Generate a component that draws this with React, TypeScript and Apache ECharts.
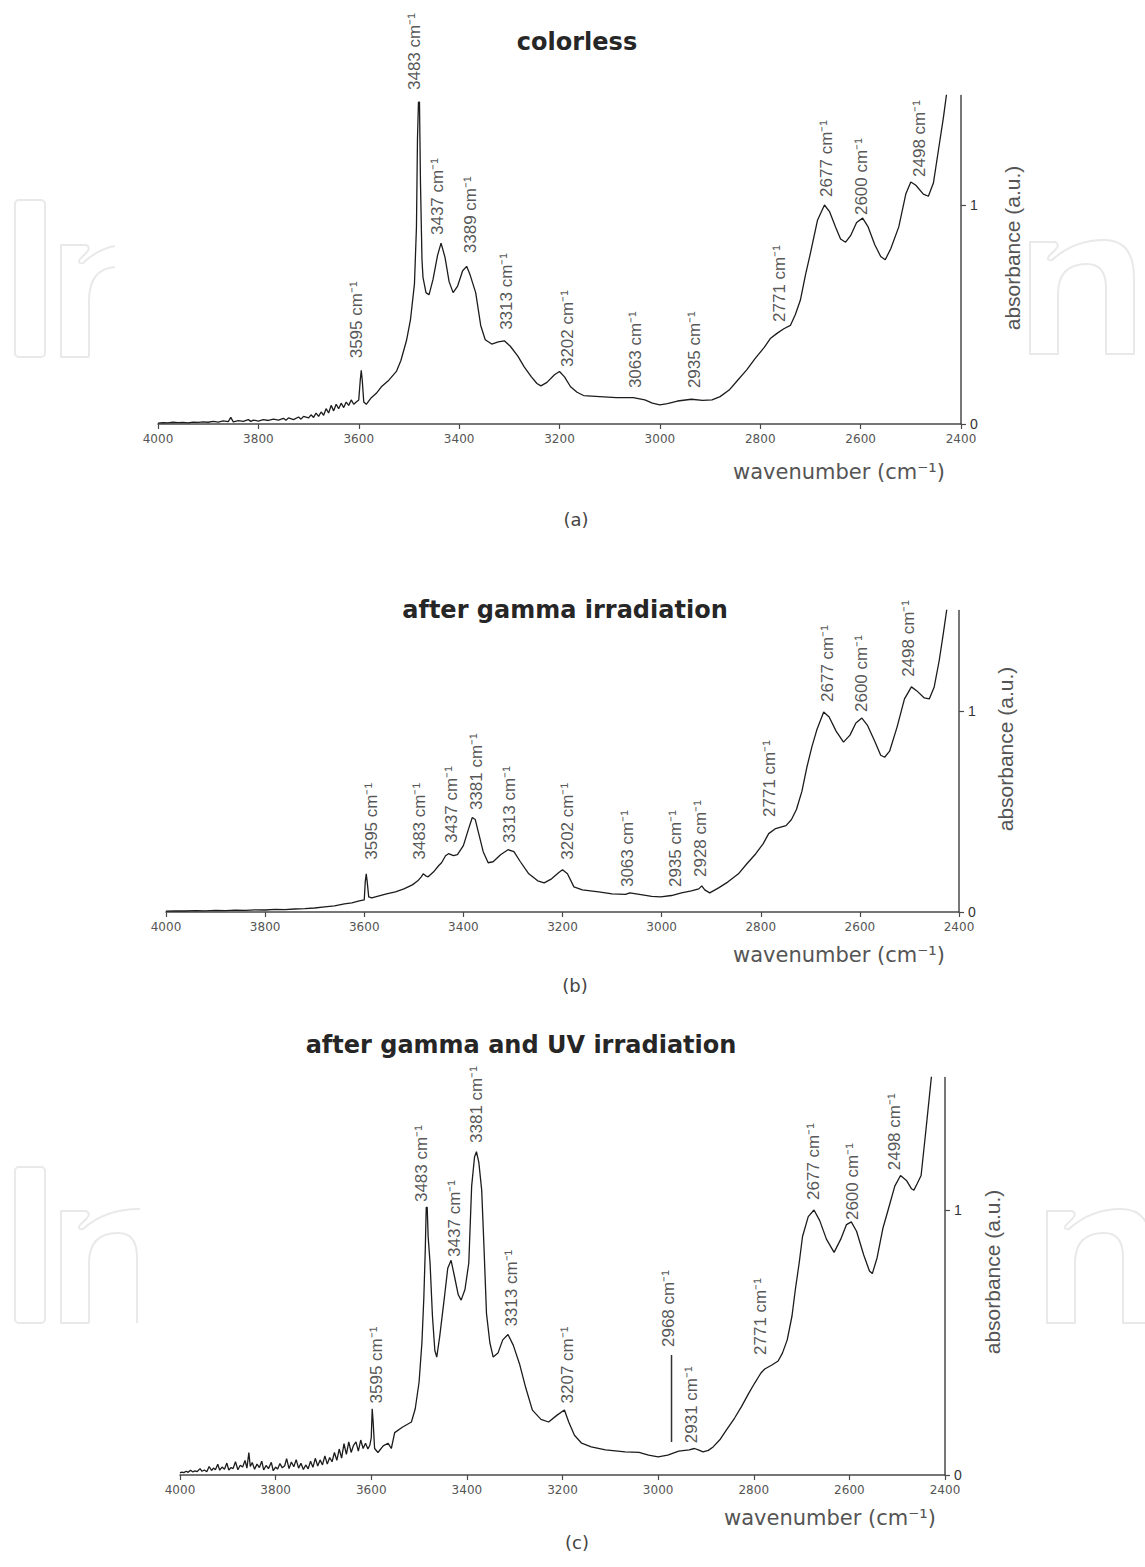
import React, { useEffect, useRef } from "react";
import * as echarts from "echarts";

// ---------- data ----------
const X_TICK_LABELS = [4000, 3800, 3600, 3400, 3200, 3000, 2800, 2600, 2400];
const Y_TICK_VALUES = [0, 1];

const colorlessSpectrum: [number, number][] = [
  [4000, 0.004], [3990, 0.006], [3980, 0.005], [3970, 0.008], [3960, 0.006], [3950, 0.007], [3940, 0.005],
  [3930, 0.009], [3920, 0.007], [3910, 0.01], [3900, 0.008], [3890, 0.012], [3880, 0.009], [3870, 0.014],
  [3860, 0.011], [3855, 0.03], [3850, 0.01], [3840, 0.015], [3830, 0.012], [3820, 0.02], [3815, 0.012],
  [3810, 0.018], [3800, 0.013], [3790, 0.02], [3780, 0.016], [3770, 0.022], [3760, 0.018], [3750, 0.026],
  [3745, 0.017], [3740, 0.028], [3730, 0.02], [3720, 0.032], [3715, 0.022], [3710, 0.035], [3700, 0.028],
  [3695, 0.042], [3690, 0.03], [3685, 0.05], [3680, 0.035], [3675, 0.055], [3670, 0.04], [3665, 0.07],
  [3660, 0.05], [3655, 0.085], [3650, 0.06], [3645, 0.09], [3640, 0.07], [3635, 0.095], [3630, 0.075],
  [3625, 0.1], [3620, 0.085], [3615, 0.11], [3610, 0.09], [3605, 0.1], [3600, 0.11], [3597, 0.2],
  [3595, 0.245], [3593, 0.2], [3590, 0.1], [3585, 0.09], [3575, 0.12], [3565, 0.14], [3555, 0.17],
  [3540, 0.2], [3525, 0.24], [3516, 0.29], [3505, 0.38], [3497, 0.475], [3489, 0.64], [3485, 0.9],
  [3483, 1.3], [3481, 1.47], [3479, 1.47], [3477, 1.1], [3474, 0.75], [3472, 0.67], [3466, 0.6],
  [3460, 0.59], [3452, 0.66], [3443, 0.77], [3436, 0.826], [3428, 0.76], [3420, 0.65], [3412, 0.6],
  [3403, 0.63], [3393, 0.7], [3385, 0.72], [3378, 0.68], [3367, 0.6], [3357, 0.45], [3348, 0.385],
  [3335, 0.365], [3322, 0.375], [3310, 0.38], [3298, 0.355], [3283, 0.31], [3270, 0.26], [3256, 0.215],
  [3245, 0.185], [3237, 0.174], [3225, 0.19], [3210, 0.225], [3200, 0.24], [3190, 0.215], [3178, 0.17],
  [3165, 0.145], [3152, 0.13], [3120, 0.125], [3087, 0.12], [3053, 0.12], [3030, 0.11], [3015, 0.095],
  [3000, 0.087], [2985, 0.093], [2965, 0.105], [2937, 0.113], [2915, 0.108], [2896, 0.11], [2880, 0.125],
  [2862, 0.155], [2845, 0.2], [2827, 0.247], [2810, 0.3], [2792, 0.35], [2780, 0.39], [2766, 0.415],
  [2753, 0.435], [2740, 0.45], [2730, 0.5], [2720, 0.566], [2710, 0.68], [2700, 0.78], [2686, 0.93],
  [2672, 1.0], [2662, 0.97], [2650, 0.9], [2640, 0.845], [2630, 0.83], [2620, 0.86], [2608, 0.92],
  [2596, 0.94], [2585, 0.9], [2572, 0.82], [2560, 0.765], [2551, 0.75], [2540, 0.8], [2524, 0.9],
  [2510, 1.05], [2500, 1.105], [2490, 1.09], [2475, 1.05], [2465, 1.04], [2455, 1.1], [2445, 1.25],
  [2435, 1.4], [2428, 1.52],
];

const gammaSpectrum: [number, number][] = [
  [4000, 0.004], [3980, 0.006], [3960, 0.005], [3940, 0.007], [3920, 0.006], [3900, 0.008], [3880, 0.007],
  [3860, 0.009], [3840, 0.008], [3820, 0.011], [3800, 0.01], [3780, 0.013], [3760, 0.012], [3740, 0.015],
  [3720, 0.017], [3700, 0.02], [3680, 0.025], [3660, 0.03], [3640, 0.04], [3625, 0.045], [3610, 0.055],
  [3600, 0.06], [3598, 0.15], [3596, 0.19], [3594, 0.15], [3591, 0.075], [3585, 0.07], [3570, 0.08],
  [3555, 0.09], [3537, 0.1], [3520, 0.115], [3503, 0.135], [3492, 0.155], [3485, 0.175], [3481, 0.19],
  [3476, 0.18], [3471, 0.175], [3460, 0.2], [3450, 0.23], [3444, 0.245], [3436, 0.28], [3430, 0.29],
  [3420, 0.28], [3412, 0.285], [3400, 0.33], [3390, 0.41], [3382, 0.47], [3376, 0.46], [3368, 0.38],
  [3360, 0.3], [3350, 0.245], [3340, 0.25], [3325, 0.285], [3310, 0.31], [3298, 0.3], [3285, 0.25],
  [3268, 0.19], [3250, 0.155], [3237, 0.145], [3222, 0.165], [3208, 0.195], [3200, 0.21], [3190, 0.19],
  [3177, 0.125], [3160, 0.11], [3127, 0.1], [3100, 0.09], [3073, 0.088], [3064, 0.095], [3045, 0.088],
  [3020, 0.078], [3002, 0.075], [2980, 0.082], [2960, 0.095], [2940, 0.105], [2925, 0.115], [2919, 0.13],
  [2913, 0.11], [2903, 0.095], [2885, 0.12], [2866, 0.15], [2845, 0.19], [2828, 0.24], [2810, 0.29],
  [2795, 0.34], [2784, 0.39], [2770, 0.415], [2749, 0.43], [2738, 0.46], [2728, 0.51], [2717, 0.6],
  [2707, 0.72], [2697, 0.82], [2687, 0.905], [2673, 0.995], [2662, 0.97], [2648, 0.9], [2633, 0.845],
  [2620, 0.88], [2608, 0.94], [2596, 0.965], [2585, 0.93], [2570, 0.85], [2558, 0.78], [2550, 0.77],
  [2540, 0.8], [2525, 0.92], [2510, 1.06], [2496, 1.12], [2485, 1.1], [2470, 1.065], [2460, 1.06],
  [2450, 1.12], [2440, 1.25], [2432, 1.38], [2425, 1.5], [2420, 1.55],
];

const gammaUvSpectrum: [number, number][] = [
  [4000, 0.008], [3996, 0.011], [3992, 0.009], [3987, 0.014], [3983, 0.01], [3978, 0.018], [3973, 0.011],
  [3969, 0.016], [3964, 0.013], [3958, 0.024], [3954, 0.014], [3949, 0.019], [3944, 0.012], [3939, 0.032],
  [3934, 0.017], [3930, 0.026], [3926, 0.02], [3921, 0.041], [3917, 0.018], [3912, 0.03], [3907, 0.022],
  [3902, 0.045], [3898, 0.019], [3893, 0.028], [3889, 0.024], [3884, 0.05], [3879, 0.02], [3874, 0.037],
  [3869, 0.03], [3864, 0.055], [3860, 0.026], [3856, 0.085], [3853, 0.032], [3849, 0.047], [3844, 0.022],
  [3839, 0.041], [3834, 0.028], [3829, 0.052], [3825, 0.019], [3820, 0.036], [3815, 0.024], [3809, 0.048],
  [3805, 0.016], [3800, 0.03], [3796, 0.022], [3791, 0.043], [3786, 0.027], [3781, 0.035], [3777, 0.062],
  [3772, 0.024], [3767, 0.049], [3762, 0.031], [3757, 0.058], [3752, 0.026], [3747, 0.044], [3742, 0.021],
  [3737, 0.038], [3732, 0.023], [3727, 0.052], [3722, 0.029], [3717, 0.063], [3712, 0.034], [3707, 0.057],
  [3702, 0.038], [3697, 0.072], [3692, 0.041], [3687, 0.066], [3682, 0.05], [3677, 0.085], [3672, 0.055],
  [3667, 0.098], [3662, 0.064], [3657, 0.118], [3652, 0.078], [3647, 0.125], [3642, 0.085], [3637, 0.112],
  [3632, 0.125], [3627, 0.09], [3622, 0.132], [3617, 0.1], [3612, 0.12], [3607, 0.098], [3603, 0.112],
  [3600, 0.14], [3598, 0.25], [3596, 0.2], [3593, 0.1], [3586, 0.085], [3575, 0.11], [3565, 0.12],
  [3558, 0.1], [3551, 0.16], [3535, 0.18], [3516, 0.2], [3508, 0.25], [3500, 0.35], [3494, 0.5],
  [3490, 0.67], [3487, 0.85], [3485, 1.01], [3483, 1.01], [3481, 0.9], [3477, 0.8], [3472, 0.6],
  [3467, 0.47], [3463, 0.445], [3457, 0.52], [3447, 0.67], [3440, 0.78], [3433, 0.81], [3426, 0.75],
  [3418, 0.68], [3412, 0.66], [3404, 0.7], [3396, 0.8], [3390, 1.09], [3384, 1.2], [3380, 1.22],
  [3375, 1.18], [3369, 1.075], [3364, 0.85], [3359, 0.61], [3352, 0.5], [3345, 0.445], [3335, 0.46],
  [3325, 0.51], [3314, 0.53], [3303, 0.49], [3290, 0.42], [3277, 0.33], [3263, 0.245], [3245, 0.21],
  [3229, 0.2], [3212, 0.225], [3196, 0.245], [3187, 0.2], [3175, 0.15], [3160, 0.12], [3140, 0.106],
  [3110, 0.095], [3069, 0.087], [3040, 0.085], [3020, 0.075], [3000, 0.068], [2980, 0.075], [2957, 0.09],
  [2935, 0.095], [2924, 0.1], [2916, 0.095], [2906, 0.087], [2895, 0.093], [2885, 0.106], [2870, 0.135],
  [2857, 0.17], [2840, 0.215], [2826, 0.257], [2810, 0.31], [2798, 0.347], [2785, 0.385], [2777, 0.4],
  [2762, 0.415], [2749, 0.43], [2740, 0.46], [2730, 0.51], [2720, 0.6], [2713, 0.7], [2705, 0.8],
  [2698, 0.9], [2686, 0.975], [2674, 1.0], [2662, 0.96], [2648, 0.89], [2632, 0.84], [2618, 0.89],
  [2606, 0.945], [2596, 0.955], [2585, 0.92], [2570, 0.83], [2558, 0.77], [2552, 0.76], [2542, 0.82],
  [2530, 0.93], [2519, 1.0], [2505, 1.09], [2493, 1.13], [2480, 1.11], [2470, 1.08], [2465, 1.075],
  [2458, 1.1], [2450, 1.13], [2440, 1.3], [2428, 1.51], [2422, 1.6],
];

// peak annotations: [label x, label baseline y, wavenumber text]
const colorlessPeaks: [number, number, string][] = [
  [3604, 0.3, "3595"], [3489, 1.525, "3483"], [3443, 0.863, "3437"], [3377, 0.78, "3389"],
  [3305, 0.43, "3313"], [3184, 0.26, "3202"], [3048, 0.164, "3063"], [2931, 0.164, "2935"],
  [2762, 0.466, "2771"], [2668, 1.037, "2677"], [2598, 0.954, "2600"], [2482, 1.128, "2498"],
];
const gammaPeaks: [number, number, string][] = [
  [3586, 0.26, "3595"], [3489, 0.26, "3483"], [3424, 0.343, "3437"], [3374, 0.507, "3381"],
  [3307, 0.343, "3313"], [3190, 0.26, "3202"], [3069, 0.124, "3063"], [2973, 0.124, "2935"],
  [2921, 0.174, "2928"], [2782, 0.473, "2771"], [2665, 1.045, "2677"], [2596, 0.995, "2600"],
  [2502, 1.17, "2498"],
];
const gammaUvPeaks: [number, number, string][] = [
  [3588, 0.27, "3595"], [3495, 1.03, "3483"], [3425, 0.823, "3437"], [3380, 1.253, "3381"],
  [3306, 0.56, "3313"], [3190, 0.27, "3207"], [2979, 0.483, "2968"], [2931, 0.12, "2931"],
  [2785, 0.453, "2771"], [2674, 1.038, "2677"], [2594, 0.962, "2600"], [2505, 1.15, "2498"],
];
const gammaUvMarker: [number, number][] = [[2972, 0.125], [2972, 0.453]];

const panelTitles = ["colorless", "after gamma irradiation", "after gamma and UV irradiation"];
const panelCaptions = ["(a)", "(b)", "(c)"];
const X_NAME = "wavenumber (cm\u207B\u00B9)";
const Y_NAME = "absorbance (a.u.)";

// ---------- watermark glyph outlines ----------
const N_FULL =
  "M89 156 L61 156 L61 44 L86 44 Q91 46 87 51 L80 58 Q77 63 83 62 Q105 42 135 42 Q165 42 165 80 L165 156 L137 156 L137 90 Q137 66 118 66 Q89 66 89 96 Z";
const N_LEFT_A =
  "M89 156 L61 156 L61 44 L86 44 Q91 46 87 51 L80 58 Q77 63 83 62 Q98 48 115 45 M89 156 L89 100 Q89 68 115 66";
const N_LEFT_C =
  "M89 156 L61 156 L61 44 L86 44 Q91 46 87 51 L80 58 Q77 63 83 62 Q105 42 140 42 M89 156 L89 96 Q89 66 118 66 Q137 66 137 90 L137 156";

let registered = false;
function registerShapes() {
  if (registered) return;
  registered = true;
  echarts.graphic.registerShape("wmNFull", echarts.graphic.extendPath(N_FULL, {}));
  echarts.graphic.registerShape("wmNLeftA", echarts.graphic.extendPath(N_LEFT_A, {}));
  echarts.graphic.registerShape("wmNLeftC", echarts.graphic.extendPath(N_LEFT_C, {}));
}

function buildOption() {
  const grids = [
    { left: 158, top: 95.5, width: 803, height: 328.5 },
    { left: 166, top: 610.5, width: 793, height: 301.5 },
    { left: 180, top: 1077.5, width: 765, height: 397.5 },
  ];
  const spectra = [colorlessSpectrum, gammaSpectrum, gammaUvSpectrum];
  const peaks = [colorlessPeaks, gammaPeaks, gammaUvPeaks];
  const axisColor = "#4a4a4a";

  const xAxis = grids.map((_, i) => ({
    gridIndex: i,
    type: "value",
    min: X_TICK_LABELS[X_TICK_LABELS.length - 1],
    max: X_TICK_LABELS[0],
    interval: 200,
    inverse: true,
    axisLine: { show: true, onZero: false, lineStyle: { color: axisColor, width: 1.5 } },
    axisTick: { show: true, length: 5, lineStyle: { color: axisColor, width: 1.2 } },
    axisLabel: {
      show: true,
      margin: 9,
      color: "#555",
      fontSize: 12,
      fontFamily: "DejaVu Sans",
      formatter: (v: number) => String(v),
    },
    splitLine: { show: false },
  }));

  const yAxis = grids.map((_, i) => ({
    gridIndex: i,
    type: "value",
    position: "right",
    min: 0,
    max: 1.5,
    interval: 1,
    axisLine: { show: true, onZero: false, lineStyle: { color: axisColor, width: 1.5 } },
    axisTick: { show: true, length: 5, customValues: Y_TICK_VALUES, lineStyle: { color: axisColor, width: 1.2 } },
    axisLabel: {
      show: true,
      margin: 9,
      customValues: Y_TICK_VALUES,
      color: "#333",
      fontSize: 14,
      fontFamily: "Liberation Sans",
      formatter: (v: number) => String(v),
    },
    splitLine: { show: false },
  }));

  const series: any[] = [];
  spectra.forEach((data, i) => {
    series.push({
      type: "line",
      xAxisIndex: i,
      yAxisIndex: i,
      data,
      showSymbol: false,
      symbol: "none",
      clip: true,
      silent: true,
      lineStyle: { color: "#1c1c1c", width: 1.3 },
    });
    series.push({
      type: "scatter",
      xAxisIndex: i,
      yAxisIndex: i,
      data: peaks[i],
      symbolSize: 1,
      clip: false,
      silent: true,
      itemStyle: { color: "rgba(0,0,0,0)" },
      label: {
        show: true,
        position: "inside",
        rotate: 90,
        align: "left",
        verticalAlign: "middle",
        fontSize: 17,
        fontFamily: "Liberation Sans",
        color: "#2a2a2a",
        formatter: (p: any) => `${p.value[2]} cm\u207B\u00B9`,
      },
    });
  });
  series.push({
    type: "line",
    xAxisIndex: 2,
    yAxisIndex: 2,
    data: gammaUvMarker,
    symbol: "none",
    silent: true,
    lineStyle: { color: "#333", width: 1.5 },
  });

  const titlePos = [
    [577, 42],
    [565, 610],
    [521, 1045],
  ];
  const capPos = [
    [576, 519],
    [575, 985],
    [577, 1542],
  ];
  const xNamePos = [
    [839, 472],
    [839, 955],
    [830, 1518],
  ];
  const yNamePos = [
    [1012, 248],
    [1005, 749],
    [992, 1272],
  ];

  const wmStyle = { fill: "none", stroke: "#e9e9e9", lineWidth: 2 };
  const graphic: any[] = [
    { type: "rect", x: 15, y: 200, shape: { x: 0, y: 0, width: 30, height: 157, r: 4 }, style: wmStyle, silent: true },
    { type: "wmNLeftA", x: 0, y: 201, style: wmStyle, silent: true },
    { type: "wmNFull", x: 969, y: 198, style: wmStyle, silent: true },
    { type: "rect", x: 15, y: 1167, shape: { x: 0, y: 0, width: 30, height: 156, r: 4 }, style: wmStyle, silent: true },
    { type: "wmNLeftC", x: 0, y: 1167, style: wmStyle, silent: true },
    { type: "wmNFull", x: 986, y: 1167, style: wmStyle, silent: true },
  ];
  for (let i = 0; i < 3; i++) {
    graphic.push({
      type: "text",
      x: titlePos[i][0],
      y: titlePos[i][1],
      silent: true,
      style: {
        text: panelTitles[i],
        fontFamily: "DejaVu Sans",
        fontWeight: "bold",
        fontSize: 24,
        fill: "#262626",
        align: "center",
        verticalAlign: "middle",
      },
    });
    graphic.push({
      type: "text",
      x: capPos[i][0],
      y: capPos[i][1],
      silent: true,
      style: {
        text: panelCaptions[i],
        fontFamily: "DejaVu Sans",
        fontSize: 18,
        fill: "#444",
        align: "center",
        verticalAlign: "middle",
      },
    });
    graphic.push({
      type: "text",
      x: xNamePos[i][0],
      y: xNamePos[i][1],
      silent: true,
      style: {
        text: X_NAME,
        fontFamily: "DejaVu Sans",
        fontSize: 21,
        fill: "#555",
        align: "center",
        verticalAlign: "middle",
      },
    });
    graphic.push({
      type: "text",
      x: yNamePos[i][0],
      y: yNamePos[i][1],
      rotation: Math.PI / 2,
      silent: true,
      style: {
        text: Y_NAME,
        fontFamily: "Liberation Sans",
        fontSize: 21,
        fill: "#555",
        align: "center",
        verticalAlign: "middle",
      },
    });
  }

  return {
    animation: false,
    backgroundColor: "#ffffff",
    grid: grids,
    xAxis,
    yAxis,
    series,
    graphic,
  };
}

export default function App() {
  const ref = useRef<HTMLDivElement>(null);
  useEffect(() => {
    if (!ref.current) return;
    registerShapes();
    const chart = echarts.init(ref.current, null, { renderer: "svg" });
    chart.setOption(buildOption() as any);
    return () => chart.dispose();
  }, []);
  return (
    <div
      ref={ref}
      style={{ position: "absolute", left: 0, top: 0, width: 1145, height: 1567, background: "#fff" }}
    />
  );
}
